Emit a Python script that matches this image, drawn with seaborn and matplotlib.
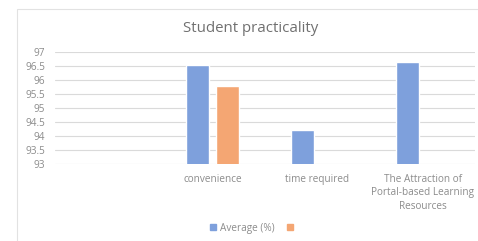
import pandas as pd
import matplotlib.pyplot as plt
import matplotlib.patches as mpatches
import seaborn as sns
import numpy as np

# Data
categories = ["", "convenience", "time required",
              "The Attraction of\nPortal-based Learning\nResources"]
average_pct = [np.nan, 96.55, 94.2, 96.65]
second_series = [np.nan, 95.8, np.nan, np.nan]
series_names = ["Average (%)", " "]
yticks = [93, 93.5, 94, 94.5, 95, 95.5, 96, 96.5, 97]

blue = "#7EA0DC"
orange = "#F4A673"

sns.set_theme(style="white")
plt.rcParams['font.family'] = ['Open Sans', 'DejaVu Sans']

df = pd.DataFrame({
    'category': categories * 2,
    'value': average_pct + second_series,
    'series': [series_names[0]] * 4 + [series_names[1]] * 4,
})

fig = plt.figure(figsize=(4.78, 2.41), dpi=100)
ax = fig.add_axes([55 / 478, 1 - 164 / 241, 420 / 478, 112 / 241])

sns.barplot(data=df, x='category', y='value', hue='series', order=categories,
            hue_order=series_names, palette=[blue, orange], width=0.57, gap=0.23,
            saturation=1, legend=False, ax=ax)

ax.set_ylim(93, 97)
ax.set_yticks(yticks)
ax.set_yticklabels([f"{t:g}" for t in yticks])
ax.set_xlim(-0.5, 3.5)
ax.set_xlabel('')
ax.set_ylabel('')
ax.yaxis.grid(True, color='#DADADA', linewidth=0.8)
ax.set_axisbelow(True)
for s in ax.spines.values():
    s.set_visible(False)
ax.tick_params(axis='both', length=0, colors='#8C8C8C', labelsize=7.2)
ax.tick_params(axis='x', pad=7)
ax.tick_params(axis='y', pad=7)
for lbl in ax.get_xticklabels():
    lbl.set_linespacing(1.3)

fig.text(0.525, 1 - 29 / 241, 'Student practicality', ha='center', va='center',
         fontsize=10.8, color='#707070')

handles = [mpatches.Patch(color=blue, label='Average (%)'),
           mpatches.Patch(color=orange, label='')]
leg = fig.legend(handles=handles, loc='center', bbox_to_anchor=(0.53, 1 - 228 / 241),
                 ncol=2, frameon=False, fontsize=7.2, handlelength=0.6, handleheight=0.6,
                 columnspacing=1.2, handletextpad=0.4)
for t in leg.get_texts():
    t.set_color('#8C8C8C')

# light border of the chart area
fig.patches.append(mpatches.Rectangle((17 / 478, -0.1), 1.2, 1 - 9 / 241 + 0.1,
                                      transform=fig.transFigure, fill=False,
                                      edgecolor='#E2E2E2', linewidth=0.8))

fig.savefig('out.png', dpi=100)
